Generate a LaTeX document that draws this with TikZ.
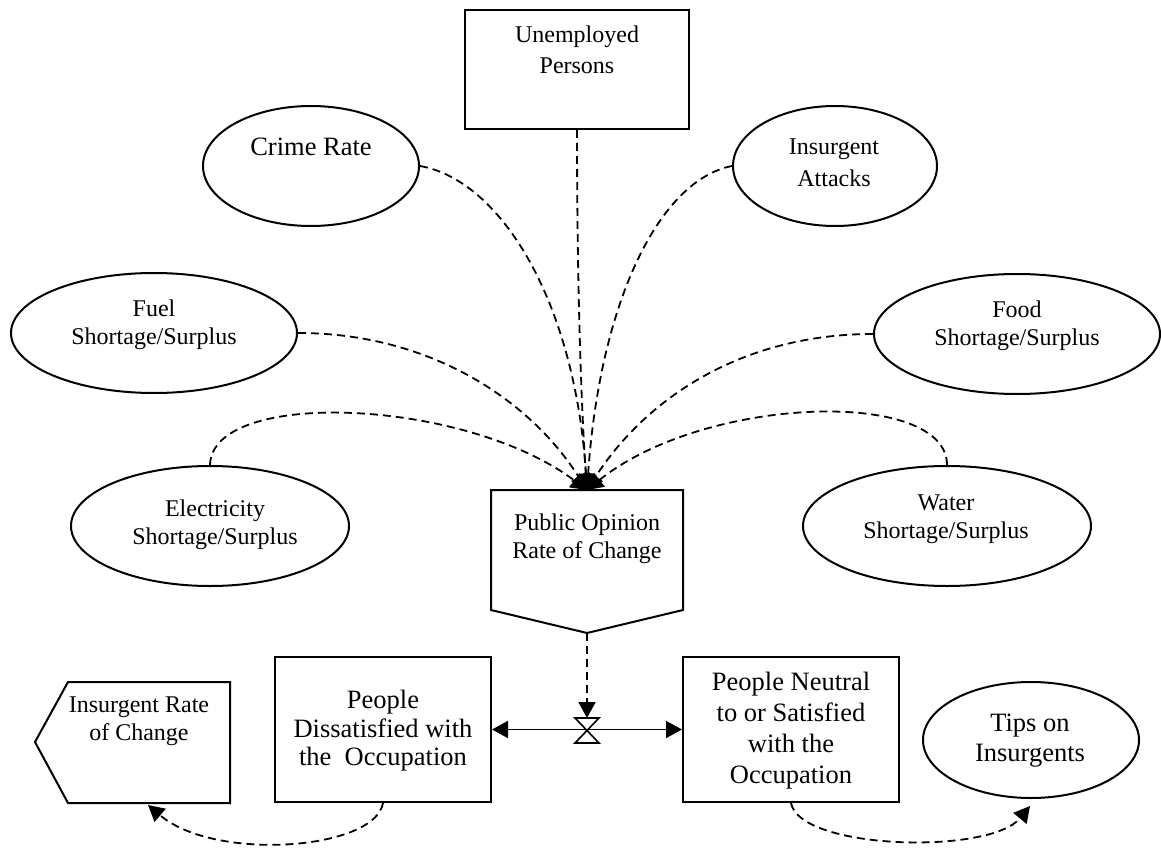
\documentclass[tikz,border=0pt]{standalone}
\usepackage{fontspec}
\setmainfont{Liberation Serif}
\usetikzlibrary{arrows.meta,shapes.geometric}
\begin{document}
\begin{tikzpicture}[x=1pt,y=-1pt,
  outline/.style={draw=black, line width=2pt},
  stockbox/.style={outline, rectangle, inner sep=0pt},
  auxell/.style={outline, ellipse, inner sep=0pt},
  lbl/.style={align=center, inner sep=0pt},
  small/.style={font=\fontsize{24}{28}\selectfont},
  big/.style={font=\fontsize{26.5}{30}\selectfont},
  tip/.style={-{Triangle[length=16pt,width=17pt]}},
  infolink/.style={line width=1.8pt, dash pattern=on 8pt off 5pt, tip},
  flowline/.style={line width=1.8pt, {Triangle[length=16pt,width=17pt]}-{Triangle[length=16pt,width=17pt]}},
]
\useasboundingbox (0,0) rectangle (1161,850);

% stocks and auxiliaries
\node[stockbox, minimum width=224, minimum height=119] (unemp) at (577,69.5) {};
\node[lbl, small, font=\fontsize{24}{31}\selectfont] (unemp-t) at (577,50) {Unemployed\\Persons};

\node[auxell, minimum width=216, minimum height=120] (crime) at (311,166) {};
\node[lbl, big] (crime-t) at (311,147) {Crime Rate};

\node[auxell, minimum width=204, minimum height=120] (attacks) at (835,166) {};
\node[lbl, small, font=\fontsize{24}{32}\selectfont] (attacks-t) at (834,163) {Insurgent\\Attacks};

\node[auxell, minimum width=286, minimum height=120] (fuel) at (154,333) {};
\node[lbl, small] (fuel-t) at (154,325) {Fuel\\Shortage/Surplus};

\node[auxell, minimum width=286, minimum height=120] (food) at (1017,334) {};
\node[lbl, small] (food-t) at (1017,326) {Food\\Shortage/Surplus};

\node[auxell, minimum width=278, minimum height=120] (elec) at (210,526) {};
\node[lbl, small] (elec-t) at (215,525) {Electricity\\Shortage/Surplus};

\node[auxell, minimum width=288, minimum height=120] (water) at (947,526) {};
\node[lbl, small] (water-t) at (946,519) {Water\\Shortage/Surplus};

% public opinion rate (converter pointing down)
\draw[outline] (491,490) -- (683,490) -- (683,610) -- (587,633) coordinate (po-tip)
  -- (491,610) -- cycle;
\coordinate (po-top) at (587,490);
\node[lbl, small] (po-t) at (587,539) {Public Opinion\\Rate of Change};

% insurgent rate (converter pointing left)
\draw[outline] (35,742) -- (68,682) -- (230,682) -- (230,803) -- (68,803) -- cycle;
\coordinate (ir-in) at (148,805);
\node[lbl, small] (ir-t) at (139,721) {Insurgent Rate\\of Change};

% population stocks
\node[stockbox, minimum width=216, minimum height=145] (diss) at (383,729.5) {};
\node[lbl, big, font=\fontsize{26.5}{28.5}\selectfont] (diss-t) at (383,731) {People\\Dissatisfied with\\the\ \ Occupation};

\node[stockbox, minimum width=216, minimum height=145] (neut) at (791,729.5) {};
\node[lbl, big, font=\fontsize{26.5}{31}\selectfont] (neut-t) at (791,731) {People Neutral\\to or Satisfied\\with the\\Occupation};

\node[auxell, minimum width=216, minimum height=116] (tips) at (1031,740) {};
\node[lbl, big] (tips-t) at (1030,741) {Tips on\\Insurgents};
\coordinate (tips-in) at (1030,806);

% flow valve between the stocks
\coordinate (valve) at (587,730);
\coordinate (valve-top) at (587,718);
\draw[flowline] (diss.east) -- (neut.west);
\draw[outline, line width=1.6pt] (575,718) -- (599,718) -- (575,743) -- (599,743) -- cycle;

% information links into the public opinion rate
\draw[infolink] (unemp.south) .. controls (577,300) and (582,420) .. (po-top);
\draw[infolink] (crime.east) .. controls (500,180) and (575,300) .. (po-top);
\draw[infolink] (attacks.west) .. controls (660,180) and (600,300) .. (po-top);
\draw[infolink] (fuel.east) .. controls (430,333) and (530,400) .. (po-top);
\draw[infolink] (food.west) .. controls (740,334) and (645,400) .. (po-top);
\draw[infolink] (elec.north) .. controls (212,388) and (465,398) .. (po-top);
\draw[infolink] (water.north) .. controls (947,388) and (705,395) .. (po-top);

% rate drives the valve
\draw[infolink] (po-tip) -- (valve-top);

% stock outputs
\draw[infolink] (diss.south) .. controls (375,850) and (215,862) .. (ir-in);
\draw[infolink] (neut.south) .. controls (800,850) and (990,855) .. (tips-in);
\end{tikzpicture}
\end{document}
